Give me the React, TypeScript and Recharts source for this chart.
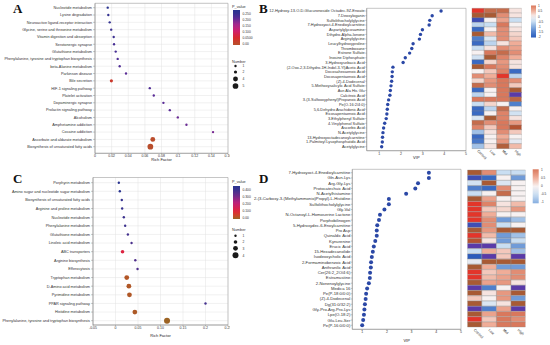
import React from 'react';
import {
  ScatterChart, Scatter, XAxis, YAxis, CartesianGrid, ReferenceArea,
  BarChart, Bar, Cell,
} from 'recharts';

const FONT = 'Liberation Sans, Arial, sans-serif';

// Panel A: KEGG enrichment
const pathwaysA = [
  'Nucleotide metabolism', 'Lysine degradation', 'Neuroactive ligand-receptor interaction',
  'Glycine, serine and threonine metabolism', 'Vitamin digestion and absorption', 'Serotonergic synapse',
  'Glutathione metabolism', 'Phenylalanine, tyrosine and tryptophan biosynthesis', 'beta-Alanine metabolism',
  'Parkinson disease', 'Bile secretion', 'HIF-1 signaling pathway', 'Platelet activation',
  'Dopaminergic synapse', 'Prolactin signaling pathway', 'Alcoholism', 'Amphetamine addiction',
  'Cocaine addiction', 'Ascorbate and aldarate metabolism', 'Biosynthesis of unsaturated fatty acids',
];
const richA = [0.0153, 0.016, 0.0177, 0.0195, 0.0225, 0.0229, 0.0249, 0.0273, 0.0297, 0.0373,
  0.0197, 0.0659, 0.0707, 0.0823, 0.09, 0.0996, 0.11, 0.142, 0.0695, 0.0666];
const numA = [1, 1, 1, 1, 1, 1, 1, 1, 1, 1, 2, 1, 1, 1, 1, 1, 1, 1, 4, 5];
const pA = [0.25, 0.24, 0.24, 0.23, 0.23, 0.22, 0.22, 0.21, 0.21, 0.2, 0.03, 0.21, 0.2, 0.2,
  0.2, 0.19, 0.19, 0.18, 0.004, 0.002];
const ticksA = [0, 0.02, 0.04, 0.06, 0.08, 0.1, 0.12, 0.14, 0.16];
const pLegendA = [0.25, 0.2, 0.15, 0.1, 0.05, 0];
const pLabelsA = ['0.250', '0.200', '0.150', '0.100', '0.0500', '0.00'];
const sizeLegendA = [1, 2, 4, 5];

// Panel C: KEGG enrichment
const pathwaysC = [
  'Porphyrin metabolism', 'Amino sugar and nucleotide sugar metabolism', 'Biosynthesis of unsaturated fatty acids',
  'Arginine and proline metabolism', 'Nucleotide metabolism', 'Phenylalanine metabolism',
  'Glutathione metabolism', 'Linoleic acid metabolism', 'ABC transporters', 'Arginine biosynthesis',
  'Efferocytosis', 'Tryptophan metabolism', 'D-Amino acid metabolism', 'Pyrimidine metabolism',
  'PPAR signaling pathway', 'Histidine metabolism', 'Phenylalanine, tyrosine and tryptophan biosynthesis',
];
const richC = [0.0074, 0.0096, 0.014, 0.0148, 0.0185, 0.0215, 0.0275, 0.0357, 0.0156, 0.044,
  0.049, 0.025, 0.0297, 0.031, 0.2, 0.043, 0.1145];
const numC = [1, 1, 1, 1, 1, 1, 1, 1, 2, 1, 1, 3, 3, 3, 1, 3, 4];
const pC = [0.4, 0.4, 0.38, 0.38, 0.37, 0.37, 0.36, 0.35, 0.11, 0.34, 0.34, 0.02, 0.018, 0.018,
  0.36, 0.015, 0.002];
const ticksC = [-0.05, 0, 0.05, 0.1, 0.15, 0.2, 0.25];
const tickLabelsC = ['-0.05', '0', '0.05', '0.10', '0.15', '0.2', '0.25'];
const pLegendC = [0.4, 0.3, 0.2, 0.1, 0];
const pLabelsC = ['0.400', '0.300', '0.200', '0.100', '0.00'];
const sizeLegendC = [1, 2, 3, 4];

// Panel B: VIP + heatmap
const metabB = [
  '12-Hydroxy-13-O-D-Glucuronoside Octadec-9Z-Enoate', '7-Deoxyloganin', 'Sulfolithocholylglycine',
  '7-Hydroxyoct-4-Enedioylcarnitine', 'Aspartylglycosamine', 'Dihydro-Alpha-Ionone', 'Arginylglycine',
  'Leucylhydroxyproline', 'Thromboxane', 'Estrone Sulfate', 'Inosine Diphosphate', '3-Hydroxysebacic Acid',
  '(2-Oxo-2,3-Dihydro-1H-Indol-3-Yl)Acetic Acid', 'Docosahexaenoic Acid', 'Docosapentaenoic Acid',
  '(Z)-4-Dodecenal', '5-Methoxysalicylic Acid Sulfate', 'Asn Ala His Glu', 'Calcitroic Acid',
  '3-(3-Sulfooxyphenyl)Propanoic Acid', 'Pe(O-16:2/4:0)', '5,6-Dehydro Arachidonic Acid',
  'Eicosapentaenoic Acid', '3-Ethylphenyl Sulfate', '4-Vinylphenol Sulfate', 'Ascorbic Acid',
  'N-Acetylglycine', '13-Hydroxyoctadecanoylcarnitine', '1-Palmitoyl Lysophosphatidic Acid', 'Acetylglycine',
];
const vipB = [3.85, 3.44, 3.33, 3.3, 2.99, 2.9, 2.85, 2.56, 2.5, 2.4, 2.2, 2.1, 1.63, 1.6, 1.59,
  1.57, 1.54, 1.51, 1.49, 1.43, 1.39, 1.37, 1.35, 1.32, 1.25, 1.2, 1.17, 1.15, 1.14, 1.11];
const heatB = [
  [2, 1.2, 1.2, 0.1], [1.5, 1.5, 0.8, 0.1], [-2.2, 0, 0.6, -0.5], [-0.6, -0.5, 1, 0],
  [-1.8, 0, 0.8, 0.1], [1.5, 0.4, 0.8, 0.2], [-1.5, -0.3, 0.8, 0.3], [-1.8, -0.6, 0.1, 0.5],
  [-0.5, 0.1, 0.8, 0.6], [0, 1, 1.2, 0.8], [-0.4, 1.5, 0.9, 0.5], [-1.8, 0.2, 0.7, 0.1],
  [1.5, 1, 0.8, 0.1], [0, 0.3, 0.9, -1.8], [0.8, 0.5, 2, -0.6], [0.2, 0.7, 1, 0.8],
  [1.2, 0.8, 1, 0.3], [-1.8, 0, 1, 1.5], [-0.6, 0, 1, -2.5], [1, 1, 1, 1.3],
  [-0.5, 0.2, 0, -1.5], [-1.8, -0.6, 1.2, 0], [-1.8, 0, 0.9, -0.4], [-0.3, 1.5, 0.9, 0.1],
  [1.2, 0.8, 1, 0.7], [0.9, 0.3, 1, 1.6], [-0.8, 0.1, 0.8, 0.3], [-1.8, 0, 0.5, 0],
  [-1.6, 0, 0.7, -0.2], [-0.8, 0.1, 1.4, 0.4],
];
const legendB = [1, 0.5, 0, -0.5, -1, -1.5, -2];

// Panel D: VIP + heatmap
const metabD = [
  '7-Hydroxyoct-4-Enedioylcarnitine', 'Gln-Asn-Lys', 'Arg-Gly-Lys', 'Protocatechuic Acid',
  'N-Acetylhistamine', '2-(3-Carboxy-3-(Methylammonio)Propyl)-L-Histidine', 'Sulfolithocholylglycine',
  'Gly-Val', 'N-Octanoyl-L-Homoserine Lactone', 'Porphobilinogen', '5-Hydroxydec-6-Enoylcarnitine',
  'Pro Asp', 'Quinaldic Acid', 'Kynurenine', 'Erucic Acid', '15-Hexadecanolide', 'Isodeoxycholic Acid',
  '2-Formaminobenzoic Acid', 'Anthranilic Acid', 'Cer(26:2_2O/4:6)', 'Estramustine', '2-Nonenoylglycine',
  'Medica 16', 'Pe(P-18:0/0:0)', '(Z)-4-Dodecenal', 'Dg(31:0/32:2)', 'Gly-Pro-Arg-Pro-Lys',
  'Lpe(O-18:2)', 'Glu-Leu-Ser', 'Pe(P-16:0/0:0)',
];
const vipD = [3.7, 3.7, 3.26, 3.15, 2.78, 2.08, 2.08, 1.9, 1.72, 1.68, 1.61, 1.59, 1.59, 1.53,
  1.47, 1.43, 1.39, 1.36, 1.35, 1.32, 1.31, 1.27, 1.2, 1.16, 1.14, 1.11, 1.09, 1.07, 1.04, 1.0];
const heatD = [
  [1.5, 0.8, -0.5, -0.5], [-2.2, -1.8, 0, -1.2], [-0.4, 1.5, -0.3, 0], [-1.5, -1.8, 0.8, 0],
  [-0.5, 0, 1.2, 0], [1.5, 0.6, 0, 0], [2, 0.9, 0.1, 0.4], [2, 0.3, 0.2, 0.7],
  [2, 0.5, 0, 0], [2, 0.8, -1.2, -0.8], [-2.2, 0.8, -0.5, 0], [1.5, 0.7, 1.5, 1.5],
  [2, 0.4, -1.2, -0.8], [1.6, 0.1, -1.2, -0.5], [-2.5, -2.5, -0.5, -1.2], [-0.5, 0.5, 0.3, -0.8],
  [-2, -2.5, 0.3, -2.5], [-0.2, 1.5, 1.5, 1.5], [1.5, 0.5, -1.2, -1.2], [2, 0.3, 0.5, 0.8],
  [2, 0.4, 0.6, 0.8], [1.5, 0.6, 0.7, 0.1], [-2.5, -1.5, 0, -2.5], [1.5, 0.1, 0.7, 1.5],
  [0.3, 0, 0.7, -1.2], [1.5, -0.3, 0.1, 1.5], [-2.5, -1.5, 0.6, -2.5], [1.5, 0.6, 1, 1],
  [2, 0.3, 1, 0.8], [1.5, 0.5, 1, 1],
];
const legendD = [1, 0.5, 0, -0.5, -1];

const groups = ['Control', 'Low', 'Mid', 'High'];

// colour helpers
type Stop = [number, string];
const rgb = (h: string) => [1, 3, 5].map((i) => parseInt(h.slice(i, i + 2), 16));
const ramp = (stops: Stop[]) => (v: number) => {
  if (v <= stops[0][0]) return stops[0][1];
  const last = stops[stops.length - 1];
  if (v >= last[0]) return last[1];
  let i = 0;
  while (v > stops[i + 1][0]) i++;
  const t = (v - stops[i][0]) / (stops[i + 1][0] - stops[i][0]);
  const a = rgb(stops[i][1]);
  const b = rgb(stops[i + 1][1]);
  return `rgb(${a.map((c, k) => Math.round(c + (b[k] - c) * t)).join(',')})`;
};
const colorA = ramp([[0, '#b8502c'], [0.05, '#d82a2c'], [0.1, '#d0206c'], [0.15, '#a8288e'], [0.2, '#5a2c96'], [0.25, '#2a3490']]);
const colorC = ramp([[0, '#9a6424'], [0.05, '#d6402a'], [0.1, '#e0243c'], [0.2, '#c0207a'], [0.3, '#6a2c8a'], [0.4, '#2a3490']]);
const heatColor = ramp([
  [-2.5, '#5a3aa8'], [-2, '#2c5cbc'], [-1.5, '#4f7fcc'], [-1, '#86aee0'], [-0.5, '#c9def2'],
  [0, '#f7f1f1'], [0.5, '#f0ad98'], [1, '#d9785c'], [1.5, '#a85a34'], [2, '#e3352a'],
]);
const rA = (n: number) => 0.75 + 0.42 * n;
const rC = (n: number) => 0.6 + 0.6 * n;

const tickStyle = { fontSize: 3.5, fill: '#333', fontFamily: FONT };
const lineStyle = { stroke: '#777', strokeWidth: 0.4 };

// y tick drawn as a single svg text so long names never wrap
const nameTick = (names: string[], fs: number) => (t: any) => (
  <text x={t.x} y={t.y} dy="0.35em" textAnchor="end" fontSize={fs} fill="#333" fontFamily={FONT}>
    {names[t.payload.value]}
  </text>
);

type BubbleProps = {
  names: string[]; rich: number[]; num: number[]; pv: number[];
  xDomain: [number, number]; xTicks: number[]; xLabels?: string[]; yDomain: [number, number];
  width: number; height: number; top: number; yWidth: number; xHeight: number; labelOffset: number;
  color: (p: number) => string; radius: (n: number) => number;
};

const BubblePanel = (p: BubbleProps) => {
  const data = p.names.map((name, i) => ({ name, x: p.rich[i], y: i, n: p.num[i], p: p.pv[i] }));
  return (
    <ScatterChart width={p.width} height={p.height} margin={{ top: p.top, right: 2, bottom: 0, left: 0 }}>
      <CartesianGrid stroke="#e2e2e2" strokeWidth={0.5} />
      <XAxis type="number" dataKey="x" domain={p.xDomain} ticks={p.xTicks} allowDataOverflow interval={0}
        height={p.xHeight} tick={tickStyle} tickSize={1.2} tickMargin={0.2} axisLine={lineStyle} tickLine={lineStyle}
        tickFormatter={(v: number) => (p.xLabels ? p.xLabels[p.xTicks.indexOf(v)] : String(v))}
        label={{ value: 'Rich Factor', position: 'insideBottom', offset: p.labelOffset, fontSize: 4, fill: '#222', fontFamily: FONT }} />
      <YAxis type="number" dataKey="y" domain={p.yDomain} ticks={p.names.map((_, i) => i)} reversed allowDataOverflow
        interval={0} width={p.yWidth} tick={nameTick(p.names, 3.8)} tickSize={2} tickMargin={1}
        axisLine={lineStyle} tickLine={lineStyle} />
      <ReferenceArea x1={p.xDomain[0]} x2={p.xDomain[1]} y1={p.yDomain[0]} y2={p.yDomain[1]}
        fill="none" stroke="#9a9a9a" strokeWidth={0.5} ifOverflow="visible" />
      <Scatter data={data} isAnimationActive={false}
        shape={(s: any) => <circle cx={s.cx} cy={s.cy} r={p.radius(s.payload.n)} fill={p.color(s.payload.p)} />} />
    </ScatterChart>
  );
};

type VipProps = {
  names: string[]; vip: number[]; xDomain: [number, number]; yDomain: [number, number];
  width: number; height: number; top: number; yWidth: number; xHeight: number; labelOffset: number;
  r: number; fs: number;
};

const VipPanel = (p: VipProps) => {
  const data = p.names.map((name, i) => ({ name, x: p.vip[i], y: i }));
  return (
    <ScatterChart width={p.width} height={p.height} margin={{ top: p.top, right: 4, bottom: 0, left: 0 }}>
      <XAxis type="number" dataKey="x" domain={p.xDomain} ticks={[1, 2, 3, 4, 5]} allowDataOverflow interval={0}
        height={p.xHeight} tick={tickStyle} tickSize={1.2} tickMargin={0.2} axisLine={lineStyle} tickLine={lineStyle}
        label={{ value: 'VIP', position: 'insideBottom', offset: p.labelOffset, fontSize: 4, fill: '#222', fontFamily: FONT }} />
      <YAxis type="number" dataKey="y" domain={p.yDomain} ticks={p.names.map((_, i) => i)} reversed allowDataOverflow
        interval={0} width={p.yWidth} tick={nameTick(p.names, p.fs)} tickSize={1.5} tickMargin={0.5}
        axisLine={lineStyle} tickLine={lineStyle} />
      <ReferenceArea x1={p.xDomain[0]} x2={p.xDomain[1]} y1={p.yDomain[0]} y2={p.yDomain[1]}
        fill="none" stroke="#8a8a8a" strokeWidth={0.5} ifOverflow="visible" />
      <Scatter data={data} isAnimationActive={false}
        shape={(s: any) => <circle cx={s.cx} cy={s.cy} r={p.r} fill="#2b48a6" />} />
    </ScatterChart>
  );
};

type HeatProps = {
  names: string[]; values: number[][]; width: number; height: number;
  margin: { top: number; left: number; right: number; bottom: number }; xHeight: number;
};

const HeatPanel = (p: HeatProps) => {
  const rows = p.names.map((name) => ({ name, c0: 1, c1: 1, c2: 1, c3: 1 }));
  return (
    <BarChart layout="vertical" width={p.width} height={p.height} data={rows} margin={p.margin}
      barCategoryGap={0} barGap={0}>
      <XAxis type="number" domain={[0, 4]} ticks={[0.5, 1.5, 2.5, 3.5]} allowDataOverflow interval={0}
        height={p.xHeight} axisLine={false} tickLine={false} tickSize={0} tickMargin={0}
        tick={(t: any) => (
          <text x={t.x - 1} y={t.y + 3} transform={`rotate(45 ${t.x - 1} ${t.y + 3})`} fontSize={3.6} fill="#333" fontFamily={FONT}>
            {groups[Math.floor(t.payload.value)]}
          </text>
        )} />
      <YAxis type="category" dataKey="name" hide />
      {groups.map((g, j) => (
        <Bar key={g} dataKey={`c${j}`} stackId="h" isAnimationActive={false} stroke="#8a8a8a" strokeWidth={0.35}>
          {p.values.map((row, i) => <Cell key={i} fill={heatColor(row[j])} />)}
        </Bar>
      ))}
    </BarChart>
  );
};

const gradStops = (f: (v: number) => string, from: number, to: number) =>
  Array.from({ length: 11 }, (_, k) => {
    const v = from + ((to - from) * k) / 10;
    return <stop key={k} offset={`${k * 10}%`} stopColor={f(v)} />;
  });

const txt = { fontFamily: FONT, fill: '#333' };

const Overlay = () => {
  const yA = (v: number) => 44 - (v / 0.25) * 30.7;
  const yC = (v: number) => 218 - (v / 0.4) * 28;
  const yB = (v: number) => 6 + ((1 - v) / 3) * 31.3;
  const yD = (v: number) => 169.8 + ((1 - v) / 2) * 32.5;
  const sizeYA = [66, 72, 79, 86];
  const sizeYC = [235.7, 242, 248.3, 255.3];
  return (
    <svg width={550} height={345} style={{ position: 'absolute', left: 0, top: 0, pointerEvents: 'none' }}>
      <defs>
        <linearGradient id="gA" x1="0" y1="0" x2="0" y2="1">{gradStops(colorA, 0.262, -0.005)}</linearGradient>
        <linearGradient id="gC" x1="0" y1="0" x2="0" y2="1">{gradStops(colorC, 0.42, -0.005)}</linearGradient>
        <linearGradient id="gB" x1="0" y1="0" x2="0" y2="1">{gradStops(heatColor, 1, -2)}</linearGradient>
        <linearGradient id="gD" x1="0" y1="0" x2="0" y2="1">{gradStops(heatColor, 1, -1)}</linearGradient>
      </defs>
      <g fontFamily="Liberation Serif, Times New Roman, serif" fontWeight="bold" fontSize={13} fill="#111">
        <text x={13} y={12.5}>A</text>
        <text x={259} y={12.5}>B</text>
        <text x={13} y={182.5}>C</text>
        <text x={259} y={182.5}>D</text>
      </g>
      {/* A legend */}
      <text x={232} y={7.5} fontSize={3.8} {...txt}>P_value</text>
      <rect x={233} y={10} width={7} height={35} fill="url(#gA)" />
      {pLegendA.map((v, i) => (
        <text key={i} x={242.5} y={yA(v) + 1.2} fontSize={3.3} {...txt}>{pLabelsA[i]}</text>
      ))}
      <text x={232} y={62.5} fontSize={3.8} {...txt}>Number</text>
      {sizeLegendA.map((n, i) => (
        <g key={n}>
          <circle cx={235.5} cy={sizeYA[i]} r={rA(n)} fill="#1a1a1a" />
          <text x={242.5} y={sizeYA[i] + 1.2} fontSize={3.3} {...txt}>{n}</text>
        </g>
      ))}
      {/* C legend */}
      <text x={232} y={183} fontSize={3.8} {...txt}>P_value</text>
      <rect x={233} y={186} width={7} height={33} fill="url(#gC)" />
      {pLegendC.map((v, i) => (
        <text key={i} x={242.5} y={yC(v) + 1.2} fontSize={3.3} {...txt}>{pLabelsC[i]}</text>
      ))}
      <text x={232} y={231} fontSize={3.8} {...txt}>Number</text>
      {sizeLegendC.map((n, i) => (
        <g key={n}>
          <circle cx={235.5} cy={sizeYC[i]} r={rC(n)} fill="#1a1a1a" />
          <text x={242.5} y={sizeYC[i] + 1.2} fontSize={3.3} {...txt}>{n}</text>
        </g>
      ))}
      {/* B colour key */}
      <rect x={531} y={5.5} width={5} height={32} fill="url(#gB)" />
      {legendB.map((v) => (
        <text key={v} x={538} y={yB(v) + 1.1} fontSize={3.1} {...txt}>{v}</text>
      ))}
      {/* D colour key */}
      <rect x={532.7} y={169.3} width={6} height={34} fill="url(#gD)" />
      {legendD.map((v) => (
        <text key={v} x={541} y={yD(v) + 1.1} fontSize={3.1} {...txt}>{v}</text>
      ))}
    </svg>
  );
};

export default function App() {
  return (
    <div style={{ position: 'absolute', left: 0, top: 0, width: 550, height: 345, background: '#fff', overflow: 'hidden' }}>
      <div style={{ position: 'absolute', left: 0, top: 0 }}>
        <BubblePanel names={pathwaysA} rich={richA} num={numA} pv={pA} xDomain={[0, 0.16]} xTicks={ticksA}
          yDomain={[-0.6, 19.9]} width={230} height={165} top={3.3} yWidth={95} xHeight={11.7} labelOffset={4}
          color={colorA} radius={rA} />
      </div>
      <div style={{ position: 'absolute', left: 0, top: 170 }}>
        <BubblePanel names={pathwaysC} rich={richC} num={numC} pv={pC} xDomain={[-0.05, 0.25]} xTicks={ticksC}
          xLabels={tickLabelsC} yDomain={[-0.6, 16.5]} width={230} height={168} top={7.5} yWidth={93}
          xHeight={13} labelOffset={1.5} color={colorC} radius={rC} />
      </div>
      <div style={{ position: 'absolute', left: 260, top: 0 }}>
        <VipPanel names={metabB} vip={vipB} xDomain={[0.42, 5]} yDomain={[-0.58, 29.86]} width={210} height={165}
          top={8.3} yWidth={106.7} xHeight={14.3} labelOffset={6} r={1.7} fs={3.9} />
      </div>
      <div style={{ position: 'absolute', left: 250, top: 165 }}>
        <VipPanel names={metabD} vip={vipD} xDomain={[0.6, 5]} yDomain={[-0.65, 29.76]} width={215} height={180}
          top={4.3} yWidth={102.3} xHeight={15.7} labelOffset={3.5} r={2} fs={4.2} />
      </div>
      <div style={{ position: 'absolute', left: 466, top: 0 }}>
        <HeatPanel names={metabB} values={heatB} width={62} height={170}
          margin={{ top: 8.3, left: 5.7, right: 6.3, bottom: 0 }} xHeight={21.7} />
      </div>
      <div style={{ position: 'absolute', left: 460, top: 165 }}>
        <HeatPanel names={metabD} values={heatD} width={75} height={180}
          margin={{ top: 5, left: 7.3, right: 9.4, bottom: 0 }} xHeight={17.7} />
      </div>
      <Overlay />
    </div>
  );
}
